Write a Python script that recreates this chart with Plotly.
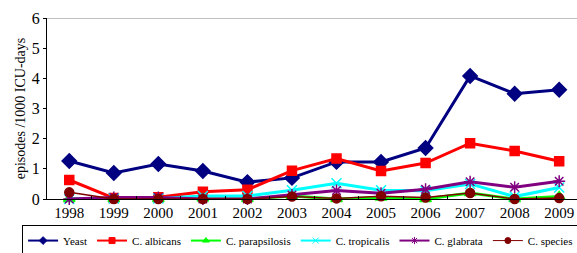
import plotly.graph_objects as go

years = ["1998", "1999", "2000", "2001", "2002", "2003", "2004", "2005", "2006", "2007", "2008", "2009"]
yeast = [1.26, 0.86, 1.16, 0.93, 0.56, 0.70, 1.23, 1.23, 1.69, 4.08, 3.49, 3.62]
albicans = [0.63, 0.03, 0.06, 0.24, 0.31, 0.94, 1.34, 0.93, 1.19, 1.85, 1.59, 1.25]
parapsilosis = [0.0, 0.0, 0.0, 0.02, 0.0, 0.10, 0.0, 0.05, 0.0, 0.20, 0.0, 0.08]
tropicalis = [0.0, 0.02, 0.02, 0.10, 0.10, 0.29, 0.52, 0.29, 0.27, 0.50, 0.08, 0.38]
glabrata = [0.0, 0.05, 0.05, 0.0, 0.0, 0.13, 0.28, 0.19, 0.32, 0.57, 0.39, 0.59]
species = [0.22, 0.0, 0.0, 0.0, 0.0, 0.08, 0.02, 0.09, 0.05, 0.20, 0.0, 0.03]

series = [
    ("Yeast", yeast, "#000080", "diamond", 3, 11),
    ("C. albicans", albicans, "#FF0000", "square", 3, 9),
    ("C. parapsilosis", parapsilosis, "#00FF00", "triangle-up", 3, 10),
    ("C. tropicalis", tropicalis, "#00FFFF", "x-thin", 3, 10),
    ("C. glabrata", glabrata, "#800080", "asterisk", 3, 10),
    ("C. species", species, "#800000", "circle", 1.5, 9),
]

fig = go.Figure()
for name, vals, color, sym, lw, ms in series:
    fig.add_trace(go.Scatter(
        x=years, y=vals, name=name, mode="lines+markers", showlegend=False,
        line=dict(color=color, width=lw),
        marker=dict(symbol=sym, size=ms, color=color,
                    line=dict(color=color, width=1.5)),
        cliponaxis=False,
    ))
# legend entries with small markers
for name, vals, color, sym, lw, ms in series:
    fig.add_trace(go.Scatter(
        x=[None], y=[None], name=name, mode="lines+markers", showlegend=True,
        line=dict(color=color, width=2 if lw > 2 else 1),
        marker=dict(symbol=sym, size=6, color=color,
                    line=dict(color=color, width=1)),
    ))

font_family = "Liberation Serif, Times New Roman, serif"
fig.update_layout(
    width=577, height=253,
    margin=dict(l=47, r=0, t=18, b=54, autoexpand=False),
    paper_bgcolor="white", plot_bgcolor="white",
    font=dict(family=font_family, color="black"),
    showlegend=True,
    legend=dict(
        orientation="h", x=-0.047, y=-0.144, xanchor="left", yanchor="top",
        bordercolor="black", borderwidth=1, font=dict(size=11, family=font_family),
        itemwidth=30, tracegroupgap=0,
    ),
    xaxis=dict(
        type="category", range=[-0.5, 11.4], showgrid=False, automargin=False,
        showline=True, linecolor="black", linewidth=1,
        ticks="inside", ticklen=3, tickcolor="black", tickson="boundaries",
        tickfont=dict(size=15, family=font_family),
    ),
    yaxis=dict(
        range=[0, 6], dtick=1, showgrid=False, zeroline=False, automargin=False,
        showline=True, linecolor="black", linewidth=1,
        ticks="outside", ticklen=3, tickcolor="black",
        tickfont=dict(size=16, family=font_family),
        title=dict(text="episodes /1000 ICU-days", font=dict(size=14, family=font_family), standoff=2),
    ),
    shapes=[dict(type="line", xref="paper", yref="y", x0=0, x1=1, y0=6, y1=6,
                 line=dict(color="#808080", width=1))],
)

fig.write_html("out.html", config={"displayModeBar": False},
               post_script="document.body.style.margin='0';document.body.style.overflow='hidden';")
